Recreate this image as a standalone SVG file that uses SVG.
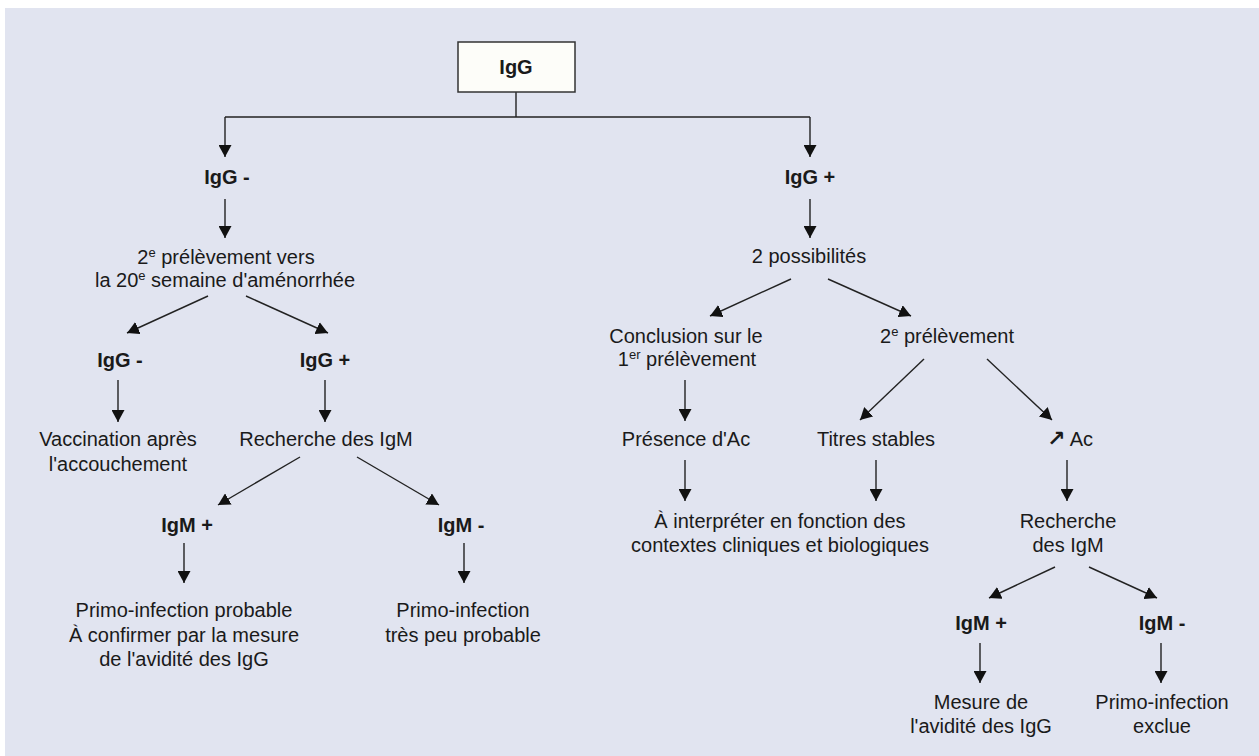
<svg xmlns="http://www.w3.org/2000/svg" width="1259" height="756" viewBox="0 0 1259 756">
<style>
text{font-family:"Liberation Sans",Arial,sans-serif;font-size:20px;fill:#1a1a1a;text-anchor:middle}
.b{font-weight:bold}
.sup{font-size:13px}
.c line{stroke:#222;stroke-width:1.4;fill:none}
.c .a{marker-end:url(#ah)}
</style>
<defs>
<marker id="ah" markerUnits="userSpaceOnUse" markerWidth="13" markerHeight="13" refX="12" refY="6.5" orient="auto">
<path d="M0,0 L12,6.5 L0,13 z" fill="#111"/>
</marker>
</defs>
<rect x="0" y="0" width="1259" height="756" fill="#ffffff"/>
<rect x="5" y="8" width="1254" height="748" fill="#e1e4f0"/>

<g class="c" id="connectors">
<line x1="516" y1="92" x2="516" y2="117"/>
<line x1="225" y1="117" x2="810" y2="117"/>
<line class="a" x1="225" y1="117" x2="225" y2="157"/>
<line class="a" x1="810" y1="117" x2="810" y2="157"/>
<line class="a" x1="225" y1="199" x2="225" y2="238"/>
<line class="a" x1="810" y1="199" x2="810" y2="238"/>
<line class="a" x1="208" y1="296" x2="127" y2="333"/>
<line class="a" x1="246" y1="296" x2="328" y2="333"/>
<line class="a" x1="118" y1="380" x2="118" y2="422"/>
<line class="a" x1="325" y1="380" x2="325" y2="422"/>
<line class="a" x1="300" y1="457" x2="218" y2="505"/>
<line class="a" x1="357" y1="457" x2="439" y2="505"/>
<line class="a" x1="184" y1="543" x2="184" y2="583"/>
<line class="a" x1="464" y1="543" x2="464" y2="583"/>
<line class="a" x1="791" y1="279" x2="710" y2="316"/>
<line class="a" x1="828" y1="279" x2="911" y2="316"/>
<line class="a" x1="685" y1="380" x2="685" y2="421"/>
<line class="a" x1="924" y1="359" x2="860" y2="420"/>
<line class="a" x1="987" y1="359" x2="1052" y2="420"/>
<line class="a" x1="685" y1="460" x2="685" y2="501"/>
<line class="a" x1="876" y1="460" x2="876" y2="501"/>
<line class="a" x1="1067" y1="460" x2="1067" y2="501"/>
<line class="a" x1="1055" y1="567" x2="989" y2="598"/>
<line class="a" x1="1089" y1="567" x2="1157" y2="598"/>
<line class="a" x1="980" y1="643" x2="980" y2="683"/>
<line class="a" x1="1161" y1="643" x2="1161" y2="683"/>
</g>

<g id="root">
<rect x="458" y="42" width="117" height="50" fill="#fdfdf9" stroke="#333" stroke-width="1.5"/>
<text class="b" x="516" y="74">IgG</text>
</g>
<g id="n-igg-neg"><text class="b" x="227" y="184">IgG -</text></g>
<g id="n-igg-pos"><text class="b" x="810" y="184">IgG +</text></g>
<g id="n-2e-prelev-20">
<text x="226" y="264">2<tspan class="sup" dy="-7">e</tspan><tspan dy="7"> prélèvement vers</tspan></text>
<text x="225" y="287">la 20<tspan class="sup" dy="-7">e</tspan><tspan dy="7"> semaine d'aménorrhée</tspan></text>
</g>
<g id="n-igg-neg2"><text class="b" x="120" y="367">IgG -</text></g>
<g id="n-igg-pos2"><text class="b" x="325" y="367">IgG +</text></g>
<g id="n-vaccination">
<text x="118" y="446">Vaccination après</text>
<text x="118" y="471">l'accouchement</text>
</g>
<g id="n-recherche-igm"><text x="326" y="446">Recherche des IgM</text></g>
<g id="n-igm-pos"><text class="b" x="187" y="532">IgM +</text></g>
<g id="n-igm-neg"><text class="b" x="461" y="532">IgM -</text></g>
<g id="n-primo-probable">
<text x="184" y="617">Primo-infection probable</text>
<text x="184" y="642">À confirmer par la mesure</text>
<text x="184" y="666">de l'avidité des IgG</text>
</g>
<g id="n-primo-peu">
<text x="463" y="617">Primo-infection</text>
<text x="463" y="642">très peu probable</text>
</g>
<g id="n-2-possibilites"><text x="809" y="263">2 possibilités</text></g>
<g id="n-conclusion">
<text x="686" y="343">Conclusion sur le</text>
<text x="687" y="366">1<tspan class="sup" dy="-7">er</tspan><tspan dy="7"> prélèvement</tspan></text>
</g>
<g id="n-2e-prelev"><text x="947" y="343">2<tspan class="sup" dy="-7">e</tspan><tspan dy="7"> prélèvement</tspan></text></g>
<g id="n-presence"><text x="686" y="446">Présence d'Ac</text></g>
<g id="n-titres"><text x="876" y="446">Titres stables</text></g>
<g id="n-ac-up"><text x="1070" y="446"><tspan style="font-family:'DejaVu Sans',sans-serif;font-weight:bold;font-size:22px">↗</tspan> Ac</text></g>
<g id="n-interpreter">
<text x="780" y="528">À interpréter en fonction des</text>
<text x="780" y="552">contextes cliniques et biologiques</text>
</g>
<g id="n-recherche-igm2">
<text x="1068" y="528">Recherche</text>
<text x="1068" y="552">des IgM</text>
</g>
<g id="n-igm-pos2"><text class="b" x="981" y="630">IgM +</text></g>
<g id="n-igm-neg2"><text class="b" x="1162" y="630">IgM -</text></g>
<g id="n-mesure">
<text x="981" y="709">Mesure de</text>
<text x="981" y="733">l'avidité des IgG</text>
</g>
<g id="n-exclue">
<text x="1162" y="709">Primo-infection</text>
<text x="1162" y="733">exclue</text>
</g>
</svg>
